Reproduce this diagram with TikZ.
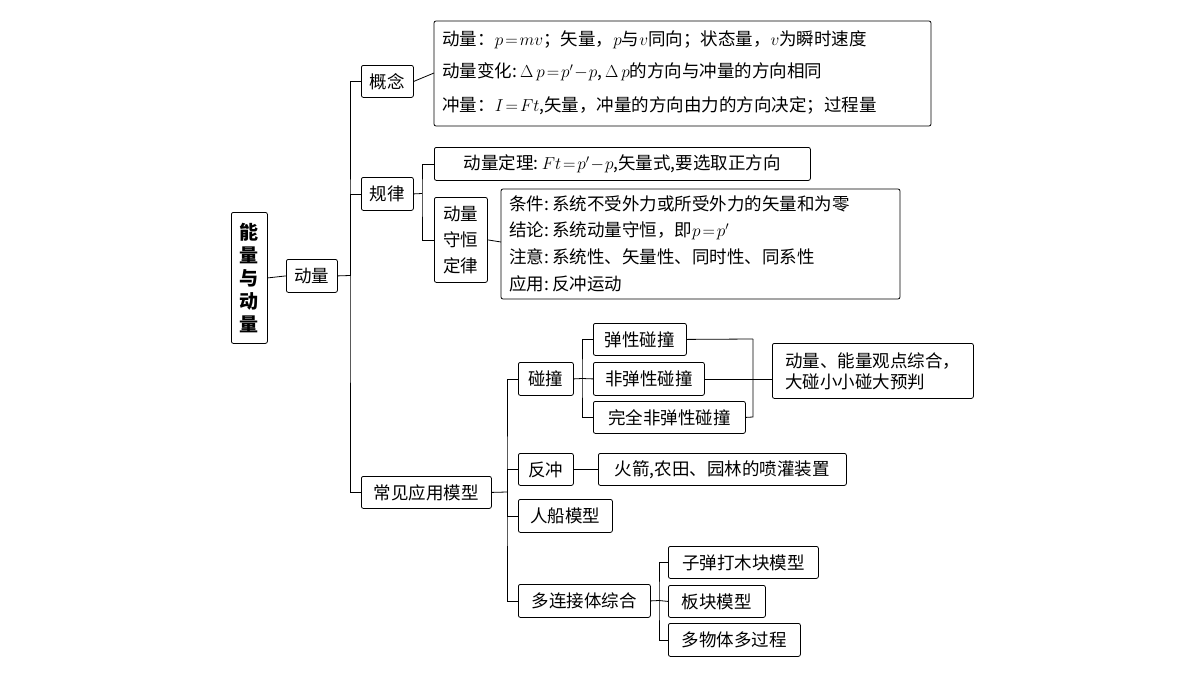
\documentclass[tikz,border=0pt]{standalone}
\usepackage{fontspec}
\setmainfont{Noto Sans CJK SC}
\begin{document}
\begin{tikzpicture}[x=1pt,y=-1pt,line width=0.8pt,
  box/.style={draw,rounded corners=2pt,inner sep=0pt,anchor=north west,font=\fontsize{17.5}{21}\selectfont},
  txt/.style={anchor=west,font=\fontsize{17.5}{21}\selectfont,inner sep=0pt}]
\useasboundingbox (0,0) rectangle (1200,675);
% boxes
\node[box,minimum width=36,minimum height=131,font=\fontsize{19}{23}\selectfont\bfseries,align=center] (root) at (231,212) {能\\量\\与\\动\\量};
\node[box,minimum width=51,minimum height=33] (dl) at (286,259) {动量};
\node[box,minimum width=52,minimum height=32] (gn) at (361,65) {概念};
\node[box,minimum width=52,minimum height=33] (gl) at (361,177) {规律};
\node[box,minimum width=130,minimum height=32] (cj) at (361,476) {常见应用模型};
\draw[rounded corners=2pt] (434,21) rectangle (931,126) coordinate (gnb);
\coordinate (gnbox) at (434,73);
\node[txt] at (442,40) {动量：$p\!=\!mv$；矢量，$p$与$v$同向；状态量，$v$为瞬时速度};
\node[txt] at (442,72) {动量变化:\,$\Delta\,p\!=\!p'\!-\!p$,\,$\Delta\,p$的方向与冲量的方向相同};
\node[txt] at (442,106) {冲量：$I\!=\!Ft$,矢量，冲量的方向由力的方向决定；过程量};
\node[box,minimum width=376,minimum height=33] (dt) at (434,147) {动量定理:\,$Ft\!=\!p'\!-\!p$,矢量式,要选取正方向};
\node[box,minimum width=53,minimum height=85,align=center,font=\fontsize{17.5}{26}\selectfont] (sh) at (434,197) {动量\\守恒\\定律};
\draw[rounded corners=2pt] (501,189) rectangle (900,299);
\coordinate (tj) at (501,242);
\node[txt] at (509,204) {条件:\,系统不受外力或所受外力的矢量和为零};
\node[txt] at (509,231) {结论:\,系统动量守恒，即$p\!=\!p'$};
\node[txt] at (509,257) {注意:\,系统性、矢量性、同时性、同系性};
\node[txt] at (509,284) {应用:\,反冲运动};
\node[box,minimum width=55,minimum height=33] (pz) at (518,362) {碰撞};
\node[box,minimum width=93,minimum height=32] (tx) at (593,323) {弹性碰撞};
\node[box,minimum width=111,minimum height=33] (ftx) at (593,362) {非弹性碰撞};
\node[box,minimum width=152,minimum height=32] (wq) at (593,401) {完全非弹性碰撞};
\node[box,minimum width=201,minimum height=55,align=left] (zh) at (772,343) {动量、能量观点综合，\\大碰小小碰大预判};
\node[box,minimum width=55,minimum height=32] (fc) at (518,453) {反冲};
\node[box,minimum width=248,minimum height=32] (hj) at (598,453) {火箭,农田、园林的喷灌装置};
\node[box,minimum width=94,minimum height=33] (rc) at (518,499) {人船模型};
\node[box,minimum width=132,minimum height=33] (dlj) at (518,584) {多连接体综合};
\node[box,minimum width=150,minimum height=32] (zd) at (668,546) {子弹打木块模型};
\node[box,minimum width=97,minimum height=32] (bk) at (668,585) {板块模型};
\node[box,minimum width=132,minimum height=33] (dw) at (668,623) {多物体多过程};
% connectors
\draw (root.east) -- (dl.west);
\draw (dl.east) -- (350,275.5) coordinate (t1);
\draw (gn.west) -| (t1) |- (cj.west);
\draw (t1) |- (gl.west);
\draw (gn.east) -- (gnbox);
\draw (gl.east) -- (422,193.5) coordinate (t2);
\draw (dt.west) -| (t2) |- (sh.west);
\draw (sh.east) -- (tj);
\draw (cj.east) -- (507,492) coordinate (t3);
\draw (pz.west) -| (t3) |- (dlj.west);
\draw (t3) |- (fc.west);
\draw (t3) |- (rc.west);
\draw (pz.east) -- (582,378.5) coordinate (t4);
\draw (tx.west) -| (t4) |- (wq.west);
\draw (t4) -- (ftx.west);
\draw (tx.east) -- (753,339) coordinate (t5);
\draw (wq.east) -- (753,417) -- (t5);
\draw (ftx.east) -- (zh.west |- ftx.east);
\draw (fc.east) -- (hj.west);
\draw (dlj.east) -- (659,600.5) coordinate (t6);
\draw (zd.west) -| (t6) |- (dw.west);
\draw (t6) -- (bk.west);
\end{tikzpicture}
\end{document}
